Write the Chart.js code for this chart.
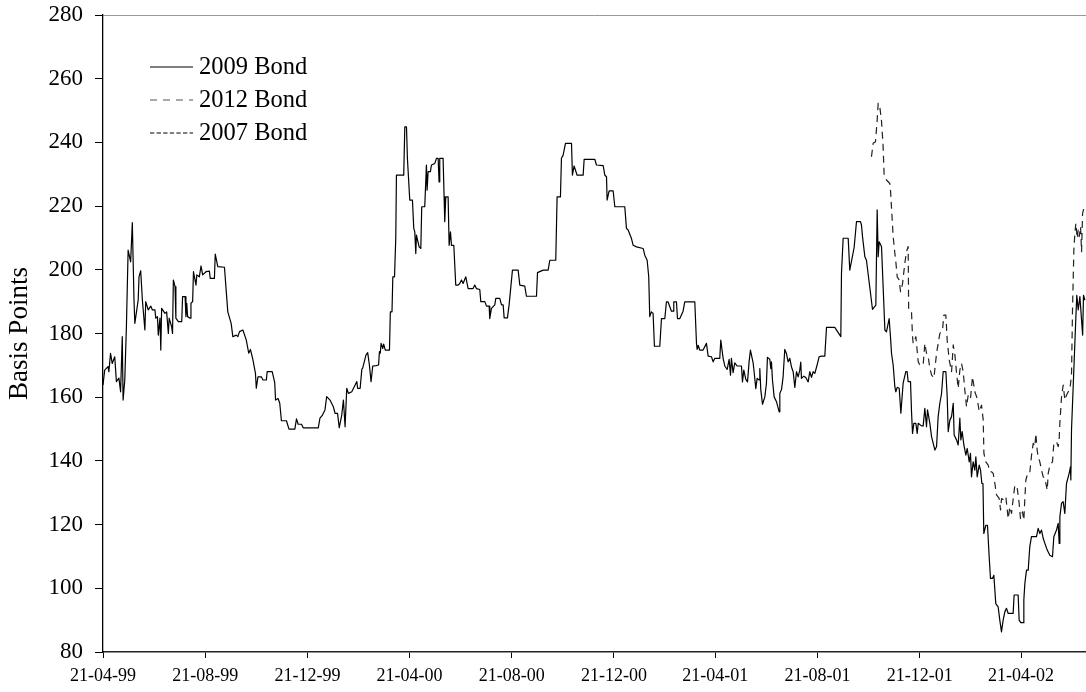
<!DOCTYPE html>
<html>
<head>
<meta charset="utf-8">
<title>Basis Points</title>
<script src="https://cdn.jsdelivr.net/npm/chart.js@4.4.1/dist/chart.umd.min.js"></script>
<style>
  html, body { margin: 0; padding: 0; background: #fff; }
  #wrap { width: 1086px; height: 692px; }
</style>
</head>
<body>
<div id="wrap"><canvas id="chart" width="1086" height="692"></canvas></div>
<script>
// Spread in basis points; x values are days counted from 21-04-99.
const startDate = "21-04-99";
const tickLabels = ["21-04-99", "21-08-99", "21-12-99", "21-04-00", "21-08-00",
                    "21-12-00", "21-04-01", "21-08-01", "21-12-01", "21-04-02"];
const lastDay = 1173.5;
const yTicks = { min: 80, max: 280, step: 20 };

const bond2009Days = [
  0, 2, 6, 7, 9, 11, 14, 16, 19, 21, 23, 24, 26, 28, 30, 33, 35, 37, 38, 42,
  43, 45, 47, 50, 51, 54, 57, 59, 62, 63, 65, 66, 68, 69, 70, 74, 76, 78, 79, 82,
  83, 84, 86, 87, 90, 94, 95, 98, 99, 100, 101, 104, 105, 107, 108, 111, 112, 115, 117, 119,
  123, 127, 128, 133, 134, 137, 145, 147, 149, 153, 155, 159, 161, 163, 167, 171, 174, 176, 179, 182,
  183, 185, 189, 191, 195, 196, 202, 205, 206, 209, 211, 213, 219, 222, 229, 231, 233, 237, 239, 257,
  259, 262, 265, 267, 271, 275, 277, 280, 282, 285, 287, 289, 291, 293, 297, 301, 303, 304, 307, 309,
  310, 314, 316, 318, 320, 322, 326, 329, 330, 331, 332, 334, 335, 337, 342, 343, 345, 346, 348, 349.5,
  350.3, 359, 360.3, 362.3, 363.4, 366.2, 369.4, 371, 372.2, 373.4, 374.2, 377.4, 379.4, 380.5, 384.1, 386.1, 386.9, 388.1, 390.9, 392.1,
  396.1, 398.1, 400.1, 401.2, 402, 406, 407.2, 408, 409.2, 412, 413.2, 414.8, 416, 418.8, 421.1, 423.9, 425.9, 427.9, 429.9, 433.1,
  435.9, 441.8, 443.8, 445.8, 449.8, 451, 455.8, 457.8, 461, 461.7, 463.7, 467.7, 468.9, 473.7, 475.7, 477.7, 478.9, 482.8, 484.8, 488.8,
  495.6, 497.6, 503.5, 505.5, 517.5, 518.7, 525.4, 531.4, 533.4, 540.5, 542.1, 546.1, 547.3, 549.3, 552.1, 559.3, 560.4, 562.4, 566, 573.2,
  574.4, 587.1, 589.1, 597.1, 599.1, 601.1, 601.8, 604.2, 609, 611, 622.9, 624.9, 626.9, 630.9, 632.9, 636.9, 644.8, 646.8, 649.6, 651.5,
  652.7, 654.7, 656.7, 658.3, 664.7, 666.7, 670.7, 672.6, 674.6, 678.6, 680.6, 681.4, 684.6, 685.8, 688.6, 692.5, 694.5, 706.5, 708.5, 709.3,
  710.5, 712.4, 716.4, 720.4, 722.4, 726.4, 728.4, 730.4, 736.3, 737.5, 740.3, 742.3, 745.1, 747.5, 749.1, 750.2, 752.2, 754.2, 757, 762.2,
  763.4, 765, 767.4, 769.4, 771.3, 772.9, 776.1, 777.3, 779.3, 780.9, 783.3, 784.1, 785.3, 787.3, 790.1, 792, 793.2, 796, 797.2, 798,
  799.2, 801.2, 804, 807.2, 808, 810, 811.9, 813.9, 815.9, 817.9, 819.9, 821.9, 823.9, 825.9, 827.9, 829.9, 831.8, 833, 833.8, 836.6,
  839, 841.8, 843.8, 845.8, 847.8, 849.8, 852.5, 854.9, 857.7, 861.7, 863.7, 873.6, 880.8, 881.6, 883.6, 889.6, 891.5, 896.7, 899.5, 904.3,
  905.5, 906.7, 909.5, 911.4, 918.6, 922.6, 924.2, 925.4, 926.6, 929.4, 933.4, 935.3, 938.5, 940.1, 941.3, 943.3, 945.3, 946.5, 948.1, 950.5,
  952.5, 955.2, 958.4, 960, 961.2, 964, 965.2, 966.4, 968, 970.4, 972, 973.2, 977.1, 979.1, 981.1, 983.1, 984.3, 987.1, 989.1, 991.1,
  993.1, 995.1, 997, 999, 1001, 1003, 1006.2, 1007.8, 1009, 1011, 1013, 1015, 1016.1, 1018.9, 1020.9, 1022.9, 1024.1, 1025.7, 1027.7, 1030.1,
  1031.7, 1034.1, 1035.6, 1036.8, 1038.8, 1040.8, 1042, 1043.6, 1046, 1047.6, 1049.2, 1050.5, 1051.5, 1053.9, 1055.9, 1057.9, 1059.5, 1061.9, 1063.5, 1065.8,
  1068.6, 1070.6, 1072.6, 1074.6, 1076.6, 1078.6, 1080.6, 1086.5, 1087.7, 1092.5, 1093.7, 1095.7, 1098.5, 1099.3, 1100.5, 1102.5, 1104.5, 1106.4, 1108.4, 1114.4,
  1116.4, 1118.4, 1120.4, 1122.4, 1124.4, 1127.2, 1130.3, 1133.5, 1135.1, 1138.3, 1140.3, 1141.5, 1142.3, 1144.3, 1146.2, 1148.2, 1150.2, 1153.4, 1155, 1155.4,
  1156.2, 1158.2, 1160.2, 1161.4, 1162.5, 1164.2, 1166.2, 1168.2, 1169.5, 1170.5, 1172.2
];
const bond2009Values = [
  163.8, 168.5, 169.6, 168, 173.8, 170.6, 172.7, 164.9, 166, 161.7, 179, 159.1, 165.4, 182.7, 206.2, 202.5, 214.8, 190.5, 183.2, 190.5,
  197.8, 199.7, 190.5, 181.1, 190, 187.4, 188.6, 187.4, 187.4, 184.8, 185.3, 179.5, 184.8, 174.8, 187.9, 186.3, 186.8, 180, 184.8, 182.1,
  180, 196.8, 194.7, 184.8, 183.7, 183.7, 191.6, 191.6, 185.3, 189.5, 185.3, 184.8, 189.5, 190, 199.4, 195.2, 198.4, 197.8, 201.2, 198.4,
  199.4, 199.6, 197.3, 197.3, 204.9, 201, 200.8, 193.7, 186.8, 183.2, 179, 179.5, 179, 180.6, 181.1, 178, 173.8, 175, 171.7, 167.5,
  162.8, 166.4, 166.4, 165.4, 165.4, 168, 168, 164.6, 159.1, 159.6, 158.1, 152.6, 152.6, 150, 150, 153.2, 151.5, 151.5, 150.4, 150.4,
  153.4, 154.4, 156, 160.2, 159.1, 157, 154.9, 154.9, 150.4, 154.4, 159.1, 150.7, 162.8, 161.2, 161.7, 163.8, 164.9, 162.8, 162.8, 168.8,
  169.1, 173.3, 174, 170.1, 164.9, 169.8, 169.9, 170.1, 174.3, 173.8, 176.9, 175.3, 176.7, 174.8, 174.8, 186.8, 186.8, 197.8, 197.8, 209.8,
  229.7, 229.7, 244.9, 244.9, 235, 221.9, 221.9, 213, 211.9, 205.1, 210.9, 207.2, 206.7, 219.8, 219.8, 232.9, 225, 230.8, 230.8, 232.9,
  233.4, 235, 235, 227.6, 235, 235, 222.9, 215.1, 222.9, 222.9, 207.7, 211.9, 207.7, 207.7, 195.2, 195.2, 195.7, 196.8, 195.7, 197.8,
  194.1, 194.1, 195.2, 194.1, 193.8, 190, 190, 188.6, 188.6, 184.7, 187.9, 189, 191, 191, 189, 189, 184.9, 184.9, 189, 199.9,
  199.9, 195.2, 194.9, 191.7, 191.7, 199.1, 199.9, 199.9, 203, 203, 222.9, 222.9, 235, 236, 239.7, 239.7, 229.7, 232.6, 229.7, 229.7,
  234.7, 234.7, 232.9, 232.7, 229.7, 229.2, 221.9, 224.8, 224.8, 219.8, 219.8, 213, 212.5, 209.8, 207.7, 207.2, 206.7, 204.6, 203, 197.8,
  185.3, 186.8, 186.3, 176, 176, 184.7, 184.7, 189.9, 189.9, 187, 187, 189.9, 189.9, 184.7, 184.7, 187, 189.9, 189.9, 176.9, 175,
  176.3, 174.8, 174.8, 176.9, 172.9, 172.7, 171.1, 172.2, 172.2, 177.9, 172.2, 169.8, 168.7, 171.9, 166.9, 172.2, 167.7, 170.8, 169.8, 169.8,
  164.8, 168.5, 165.6, 164.8, 171.1, 174.8, 170.8, 168, 162.7, 165.9, 165.4, 169, 162.2, 157.8, 160.1, 164.3, 172.5, 171.9, 169, 171.1,
  165.4, 160.1, 158.6, 155.4, 161.2, 162.4, 166.4, 175, 173.7, 171.1, 172.2, 169.5, 168, 163.1, 168, 166.4, 168.5, 171, 165.9, 166.6,
  166.2, 164.8, 168, 166.2, 168, 167.5, 170.1, 172.7, 172.9, 172.9, 181.9, 181.9, 179, 198.9, 209.9, 209.9, 199.9, 207, 215.1, 215.1,
  214, 210.4, 204.1, 203, 187.6, 188.9, 218.8, 204.1, 208.8, 207.2, 181.1, 180.5, 184.7, 179, 173.8, 170.1, 163.3, 161.7, 163.1, 162.8,
  155, 164.4, 168, 168, 164.9, 164.9, 155.5, 148.6, 151.8, 151.8, 148.6, 151.8, 151, 151, 156.5, 150.7, 156, 151.8, 147.6, 145.5,
  143.4, 144.5, 153.9, 158.1, 161, 168, 168, 160.2, 149.2, 152.8, 153.9, 158.1, 148.1, 146.6, 145, 153.4, 146.6, 149.2, 145, 141.8,
  143.9, 139.7, 142.4, 135, 139.7, 137.1, 141.3, 135, 138.7, 137.1, 132.9, 132.9, 117.2, 119.8, 119.8, 109.9, 103.1, 103.1, 104.1, 95.2,
  94.2, 90, 86.3, 90, 92.6, 93.7, 92.1, 92.1, 97.9, 97.9, 90, 89.2, 89.2, 96.3, 101.5, 105.7, 105.7, 113.1, 116.2, 116.2,
  118.8, 117.2, 118.3, 115.7, 114.1, 112, 110.4, 109.9, 116.2, 118.3, 120.4, 114.1, 122.5, 126.7, 127.2, 123.5, 132.9, 136.1, 138.2, 134,
  149.7, 163.3, 176.9, 185, 192, 187.4, 191.6, 184.2, 179.5, 192, 190.5
];

const bond2012Days = [
  917.4, 919.4, 922.2, 924.2, 925.4, 927.3, 929.3, 931.3, 932.5, 935.3, 939.3, 940.1, 943.3, 945.3, 946.5, 948.1, 950.5, 952.1, 954.4, 957.2,
  959.2, 961.2, 961.8, 965.2, 966.4, 967.2, 970.4, 973.2, 975.1, 979.1, 981.1, 983.1, 985.1, 987.1, 989.1, 991.9, 995.1, 999, 1002.2, 1003.8,
  1006.2, 1007.8, 1010.2, 1013, 1015, 1017, 1019, 1020.9, 1022.9, 1024.9, 1026.9, 1028.8, 1030.9, 1032.9, 1035.6, 1038, 1040.8, 1043.6, 1046, 1048.8,
  1050.8, 1051.6, 1053.9, 1056.7, 1058.7, 1060.7, 1062.7, 1064.7, 1066.7, 1069.9, 1071.5, 1072.7, 1075.4, 1077.8, 1078.6, 1080.6, 1082.6, 1084.6, 1086.6, 1088.6,
  1091.4, 1093.7, 1095.3, 1097.7, 1099.3, 1100.5, 1101.7, 1104.5, 1106.5, 1108.5, 1110.5, 1112.5, 1113.6, 1115.2, 1116.4, 1118.4, 1120.4, 1122.4, 1124.4, 1127.2,
  1128.4, 1130.4, 1133.5, 1135.1, 1138.3, 1140.3, 1141.5, 1142.3, 1144.3, 1146.3, 1148.3, 1150.3, 1152.3, 1154.2, 1156.2, 1157.4, 1158.2, 1159, 1160.2, 1161.4,
  1163, 1164.2, 1165.4, 1167, 1168.2, 1169.4, 1171, 1172.2
];
const bond2012Values = [
  235.5, 239.7, 240.2, 247, 252.3, 251.2, 247, 238.7, 229.8, 228.2, 227.1, 225.1, 210.4, 205.2, 202.5, 197.8, 196.8, 193.1, 195.5, 202,
  205.7, 207.3, 187.4, 186.8, 179, 176.9, 179, 171.1, 170.1, 170.1, 176.9, 173.8, 172.7, 169.1, 167, 166, 173.8, 180, 181.1, 185.8,
  185.8, 177.9, 171.7, 168, 176.4, 173.2, 167.5, 162.8, 168.5, 170.6, 168, 162.3, 157, 160.7, 159.6, 166.4, 161.7, 159.6, 155.5, 157.5,
  152.8, 142.4, 139.7, 138.7, 136.6, 136.6, 136.1, 132.9, 129.3, 128.2, 124.6, 128.2, 127.7, 128.7, 126.7, 121.9, 125.6, 123.5, 128.2, 132.4,
  131.4, 126.7, 121.9, 124, 121.4, 128.2, 134, 136.6, 136.6, 141.8, 145.5, 144.5, 148.6, 143.4, 141.3, 139.7, 137.1, 135, 134.5, 130.8,
  136.1, 138.7, 139.7, 145.5, 146, 144.5, 147.1, 151.8, 160.2, 163.8, 159.1, 160.7, 161.7, 162.3, 167, 187.4, 196.8, 206.2, 211.4, 214.6,
  209.9, 212.5, 210.4, 213.5, 205.7, 217.7, 219.3, 220.3
];

// The 2007 issue has no quotes in this window; it is listed in the key only.
const bond2007Days = [];
const bond2007Values = [];

const seriesNames = ["2009 Bond", "2012 Bond", "2007 Bond"];

const serif = '"Liberation Serif", "Times New Roman", Times, serif';

function dayOf(label) {
  const [d, m, y] = label.split("-").map(Number);
  const year = y < 50 ? 2000 + y : 1900 + y;
  return Date.UTC(year, m - 1, d) / 86400000;
}
const day0 = dayOf(startDate);
const tickDays = tickLabels.map(l => dayOf(l) - day0);

function points(days, values) {
  return days.map((d, i) => ({ x: d, y: values[i] }));
}

// Key drawn inside the plot, top left, with each series' own stroke.
const insetKey = {
  id: "insetKey",
  afterDraw(chart) {
    const ctx = chart.ctx;
    ctx.save();
    chart.data.datasets.forEach((ds, i) => {
      const y = 67 + i * 33;
      ctx.beginPath();
      ctx.setLineDash(ds.keyDash || []);
      ctx.strokeStyle = ds.keyColor || ds.borderColor;
      ctx.lineWidth = 1.2;
      ctx.moveTo(150, y);
      ctx.lineTo(193, y);
      ctx.stroke();
      ctx.setLineDash([]);
      ctx.fillStyle = "#000";
      ctx.font = "24.5px " + serif;
      ctx.textBaseline = "middle";
      ctx.textAlign = "left";
      ctx.fillText(ds.label, 199, y + 1);
    });
    ctx.restore();
  }
};

new Chart(document.getElementById("chart"), {
  type: "line",
  data: {
    datasets: [
      {
        label: seriesNames[0],
        data: points(bond2009Days, bond2009Values),
        borderColor: "#000",
        borderWidth: 1.2,
        keyDash: []
      },
      {
        label: seriesNames[1],
        data: points(bond2012Days, bond2012Values),
        borderColor: "#222",
        borderWidth: 1.2,
        borderDash: [7, 5],
        keyDash: [7, 6],
        keyColor: "#555"
      },
      {
        label: seriesNames[2],
        data: points(bond2007Days, bond2007Values),
        borderColor: "#000",
        borderWidth: 1.2,
        borderDash: [4, 2.5],
        keyDash: [4.3, 2.3]
      }
    ]
  },
  options: {
    responsive: false,
    animation: false,
    parsing: true,
    elements: {
      point: { radius: 0, hitRadius: 0, hoverRadius: 0 },
      line: { tension: 0, fill: false, borderJoinStyle: "round" }
    },
    layout: { padding: { top: 15, right: 0, bottom: 0, left: 0 } },
    plugins: {
      legend: { display: false },
      tooltip: { enabled: false }
    },
    scales: {
      x: {
        type: "linear",
        min: 0,
        max: lastDay,
        afterBuildTicks: s => { s.ticks = tickDays.map(v => ({ value: v })); },
        afterFit: s => { s.height = 40; s.paddingRight = 0; },
        ticks: {
          autoSkip: false,
          maxRotation: 0,
          minRotation: 0,
          padding: 7,
          color: "#000",
          font: { family: serif, size: 18 },
          callback: (v, i) => tickLabels[i]
        },
        grid: { drawOnChartArea: false, tickLength: 6, color: "#000", lineWidth: 1 },
        border: { color: "#222", width: 1.5 }
      },
      y: {
        min: yTicks.min,
        max: yTicks.max,
        afterFit: s => { s.width = 103; s.paddingTop = 0; s.paddingBottom = 0; },
        ticks: {
          stepSize: yTicks.step,
          padding: 12,
          color: "#000",
          font: { family: serif, size: 23 }
        },
        grid: {
          color: c => (c.tick && c.tick.value === yTicks.max) ? "#999" : "rgba(0,0,0,0)",
          tickColor: "#000",
          tickLength: 8,
          lineWidth: 1
        },
        border: { color: "#000", width: 1.3 },
        title: {
          display: true,
          text: "Basis Points",
          color: "#000",
          font: { family: serif, size: 27 },
          padding: { top: 4, bottom: 0 }
        }
      }
    }
  },
  plugins: [insetKey]
});
</script>
</body>
</html>
